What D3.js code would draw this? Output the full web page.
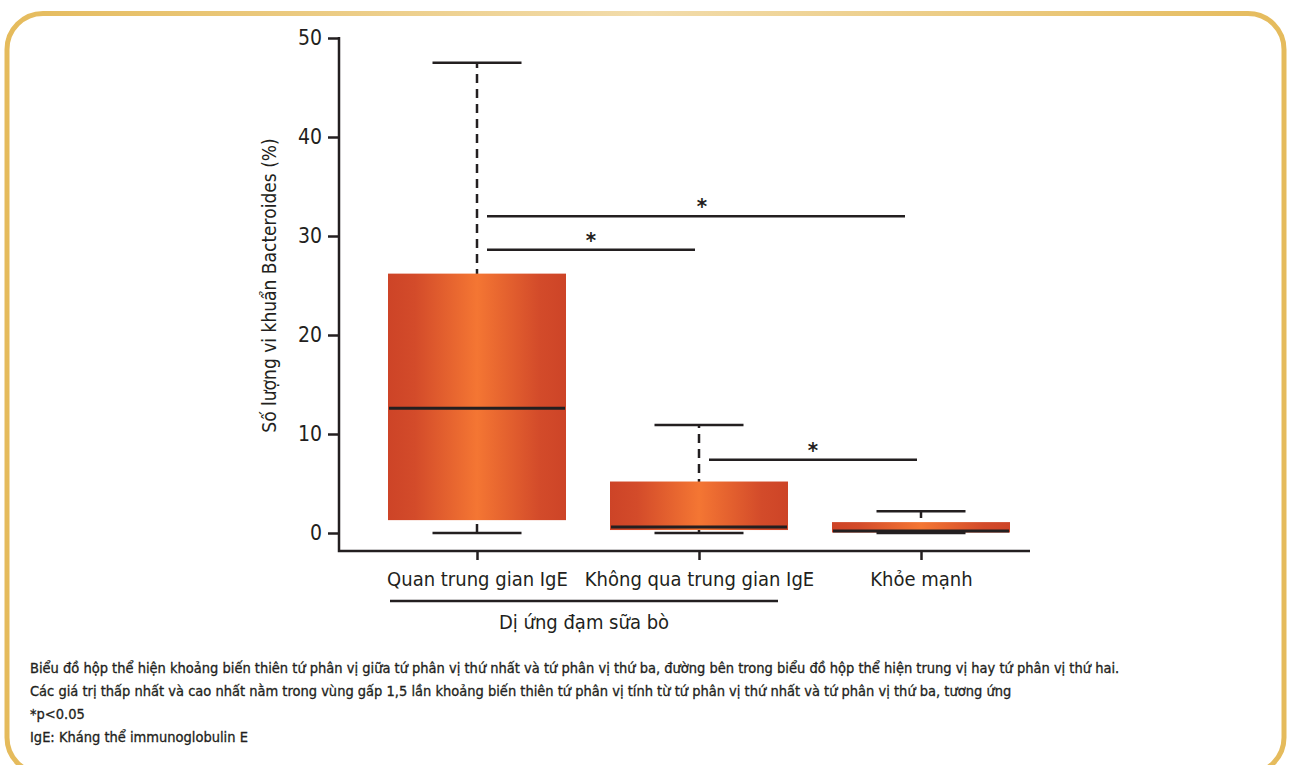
<!DOCTYPE html>
<html>
<head>
<meta charset="utf-8">
<script src="https://cdn.jsdelivr.net/npm/d3@7"></script>
<style>
  body { margin: 0; background: #fff; }
  svg text { font-family: "Liberation Sans Narrow", "DejaVu Sans Condensed", "Roboto", sans-serif; fill: #231f20; }
</style>
</head>
<body>
<svg width="1290" height="765"></svg>
<script>
// categories and box statistics (percent)
var groups = ["Quan trung gian IgE", "Không qua trung gian IgE", "Khỏe mạnh"];
var whiskerLow = [0, 0, 0];
var q1 = [1.3, 0.3, 0.05];
var medians = [12.6, 0.6, 0.2];
var q3 = [26.2, 5.2, 1.1];
var whiskerHigh = [47.5, 10.9, 2.2];
var yTicks = [0, 10, 20, 30, 40, 50];

// significance brackets: from group, to group, height
var sigFrom = [0, 0, 1];
var sigTo = [1, 2, 2];
var sigLevel = [28.6, 32, 7.4];

var notes = [
  "Biểu đồ hộp thể hiện khoảng biến thiên tứ phân vị giữa tứ phân vị thứ nhất và tứ phân vị thứ ba, đường bên trong biểu đồ hộp thể hiện trung vị hay tứ phân vị thứ hai.",
  "Các giá trị thấp nhất và cao nhất nằm trong vùng gấp 1,5 lần khoảng biến thiên tứ phân vị tính từ tứ phân vị thứ nhất và tứ phân vị thứ ba, tương ứng",
  "*p<0.05",
  "IgE: Kháng thể immunoglobulin E"
];

var svg = d3.select("svg");
var defs = svg.append("defs");

// frame gradient
var fg = defs.append("linearGradient").attr("id", "frame").attr("x1", "0").attr("x2", "1");
fg.append("stop").attr("offset", "0").attr("stop-color", "#e5bb5c");
fg.append("stop").attr("offset", "0.5").attr("stop-color", "#f2dcab");
fg.append("stop").attr("offset", "1").attr("stop-color", "#e5bb5c");

var bg = defs.append("linearGradient").attr("id", "boxfill").attr("x1", "0").attr("x2", "1");
bg.append("stop").attr("offset", "0").attr("stop-color", "#cd4427");
bg.append("stop").attr("offset", "0.15").attr("stop-color", "#d34b2a");
bg.append("stop").attr("offset", "0.5").attr("stop-color", "#f47633");
bg.append("stop").attr("offset", "0.85").attr("stop-color", "#d34b2a");
bg.append("stop").attr("offset", "1").attr("stop-color", "#cd4427");

svg.append("rect")
  .attr("x", 7).attr("y", 13.5)
  .attr("width", 1277).attr("height", 760)
  .attr("rx", 36).attr("ry", 36)
  .attr("fill", "none")
  .attr("stroke", "url(#frame)")
  .attr("stroke-width", 5);

var x = d3.scalePoint().domain(groups).range([477, 921]);
var y = d3.scaleLinear().domain([0, 50]).range([533, 38]);
var boxW = 178, capW = 89;

// axes
var yAxis = svg.append("g")
  .attr("transform", "translate(339,0)")
  .call(d3.axisLeft(y).tickValues(yTicks).tickSize(11).tickPadding(6));
yAxis.select(".domain").remove();
yAxis.selectAll(".tick line").attr("stroke", "#231f20").attr("stroke-width", 2.5);
yAxis.selectAll(".tick text").attr("font-size", 21).style("fill", "#231f20");

svg.append("path")
  .attr("d", "M339," + (y(50) - 1) + "V551H1030")
  .attr("fill", "none").attr("stroke", "#231f20").attr("stroke-width", 2.5);

var xAxis = svg.append("g")
  .attr("transform", "translate(0,551)")
  .call(d3.axisBottom(x).tickSize(9).tickPadding(12));
xAxis.select(".domain").remove();
xAxis.selectAll(".tick line").attr("stroke", "#231f20").attr("stroke-width", 2.5);
xAxis.selectAll(".tick text").attr("font-size", 20).style("fill", "#231f20");

svg.append("text")
  .attr("transform", "translate(276," + y(25) + ") rotate(-90)")
  .attr("text-anchor", "middle")
  .attr("font-size", 19)
  .text("Số lượng vi khuẩn Bacteroides (%)");

// group bracket under two allergy groups
svg.append("line")
  .attr("x1", 390).attr("x2", 778).attr("y1", 601).attr("y2", 601)
  .attr("stroke", "#231f20").attr("stroke-width", 2.5);
svg.append("text")
  .attr("x", 584).attr("y", 629)
  .attr("text-anchor", "middle").attr("font-size", 20)
  .text("Dị ứng đạm sữa bò");

// boxes
var boxes = svg.selectAll("g.box").data(groups).enter().append("g").attr("class", "box");

boxes.append("line")
  .attr("x1", function(d){return x(d)}).attr("x2", function(d){return x(d)})
  .attr("y1", function(d, i){return y(whiskerLow[i])})
  .attr("y2", function(d, i){return y(whiskerHigh[i])})
  .attr("stroke", "#231f20").attr("stroke-width", 2.5)
  .attr("stroke-dasharray", "9,6");

boxes.append("rect")
  .attr("x", function(d){return x(d) - boxW / 2})
  .attr("width", boxW)
  .attr("y", function(d, i){return y(q3[i])})
  .attr("height", function(d, i){return y(q1[i]) - y(q3[i])})
  .attr("fill", "url(#boxfill)");

boxes.append("line")
  .attr("x1", function(d){return x(d) - boxW / 2 + 1}).attr("x2", function(d){return x(d) + boxW / 2 - 1})
  .attr("y1", function(d, i){return y(medians[i])})
  .attr("y2", function(d, i){return y(medians[i])})
  .attr("stroke", "#231f20").attr("stroke-width", 3);

[whiskerLow, whiskerHigh].forEach(function(arr){
  boxes.append("line")
    .attr("x1", function(d){return x(d) - capW / 2}).attr("x2", function(d){return x(d) + capW / 2})
    .attr("y1", function(d, i){return y(arr[i])})
    .attr("y2", function(d, i){return y(arr[i])})
    .attr("stroke", "#231f20").attr("stroke-width", 2.5);
});

// significance lines
var sig = svg.selectAll("g.sig").data(sigLevel).enter().append("g").attr("class", "sig");
sig.append("line")
  .attr("x1", function(d, i){return x(groups[sigFrom[i]]) + 10})
  .attr("x2", function(d, i){return x(groups[sigTo[i]]) - (sigTo[i] - sigFrom[i] > 1 ? 16 : 4)})
  .attr("y1", function(d){return y(d)}).attr("y2", function(d){return y(d)})
  .attr("stroke", "#231f20").attr("stroke-width", 2.5);
sig.append("text")
  .attr("x", function(d, i){return (x(groups[sigFrom[i]]) + x(groups[sigTo[i]])) / 2 + 3})
  .attr("y", function(d){return y(d) - 2})
  .attr("text-anchor", "middle").attr("font-size", 22).attr("font-weight", "bold")
  .text("*");

// footnotes
svg.selectAll("text.note").data(notes).enter().append("text")
  .attr("class", "note")
  .attr("x", 30)
  .attr("y", function(d, i){return 673 + i * 23})
  .attr("font-size", 14.5)
  .attr("stroke", "#231f20").attr("stroke-width", 0.3)
  .text(function(d){return d});
</script>
</body>
</html>
